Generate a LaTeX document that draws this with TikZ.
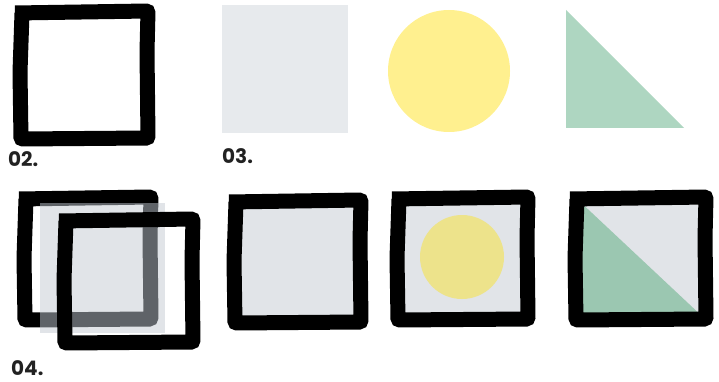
\documentclass[tikz,border=0pt]{standalone}
\usepackage{fontspec}
\setmainfont{Poppins}
\usepackage{xcolor}
\usepackage{tikz}

\definecolor{paleGray}{HTML}{E7EAED}
\definecolor{boxGray}{HTML}{E1E4E8}
\definecolor{paleYellow}{HTML}{FFF08F}
\definecolor{boxYellow}{HTML}{EDE38B}
\definecolor{paleGreen}{HTML}{AED6C1}
\definecolor{boxGreen}{HTML}{9BC7B1}
\definecolor{shadeGray}{HTML}{5F6368}
\definecolor{labelInk}{HTML}{222222}

% hand drawn frame: centre line from (#1,#2) to (#3,#4)
\newcommand{\inkpath}[4]{
  (#1-6,#2+1) -- (#3+1,#2-1) -- (#3,#2+40) -- (#3+1,#4) -- (#1,#4+1)
  -- (#1-1,#2+60) -- (#1+1,#2+1)}

\begin{document}
\begin{tikzpicture}[
  x=1pt, y=-1pt,
  inkframe/.style={draw=black, line width=15pt, line join=miter, line cap=butt,
    rounded corners=2pt},
  caption/.style={font=\fontsize{20}{20}\selectfont\bfseries, text=labelInk,
    anchor=base west, inner sep=0pt, text depth=0pt},
]
\useasboundingbox (0,0) rectangle (719,382);

% top row
\draw[inkframe] \inkpath{21}{12}{147}{138};
\node[caption] (capA) at (8,167) {02.};

\fill[paleGray] (222,5) rectangle (348,133);
\fill[paleYellow] (449,71) circle (61);
\fill[paleGreen] (566,10) -- (566,128) -- (684,128) -- cycle;
\node[caption] (capB) at (222,164) {03.};

% bottom row: overlapping frames
\draw[inkframe] \inkpath{25}{198}{150}{319};
\fill[boxGray] (40,203) rectangle (165,333);
\begin{scope}
  \clip (40,203) rectangle (165,333);
  \draw[inkframe, shadeGray] \inkpath{25}{198}{150}{319};
\end{scope}
\draw[inkframe] \inkpath{65}{220}{192}{342};
\node[caption] (capC) at (11,375) {04.};

% bottom row: filled frames
\fill[boxGray] \inkpath{235}{201}{360}{322};
\draw[inkframe] \inkpath{235}{201}{360}{322};

\fill[boxGray] \inkpath{398}{198}{527}{319};
\fill[boxYellow] (462,257) circle (42);
\draw[inkframe] \inkpath{398}{198}{527}{319};

\fill[boxGray] \inkpath{576}{198}{705}{319};
\fill[boxGreen] (576,198) -- (576,319) -- (705,319) -- cycle;
\draw[inkframe] \inkpath{576}{198}{705}{319};
\end{tikzpicture}
\end{document}
